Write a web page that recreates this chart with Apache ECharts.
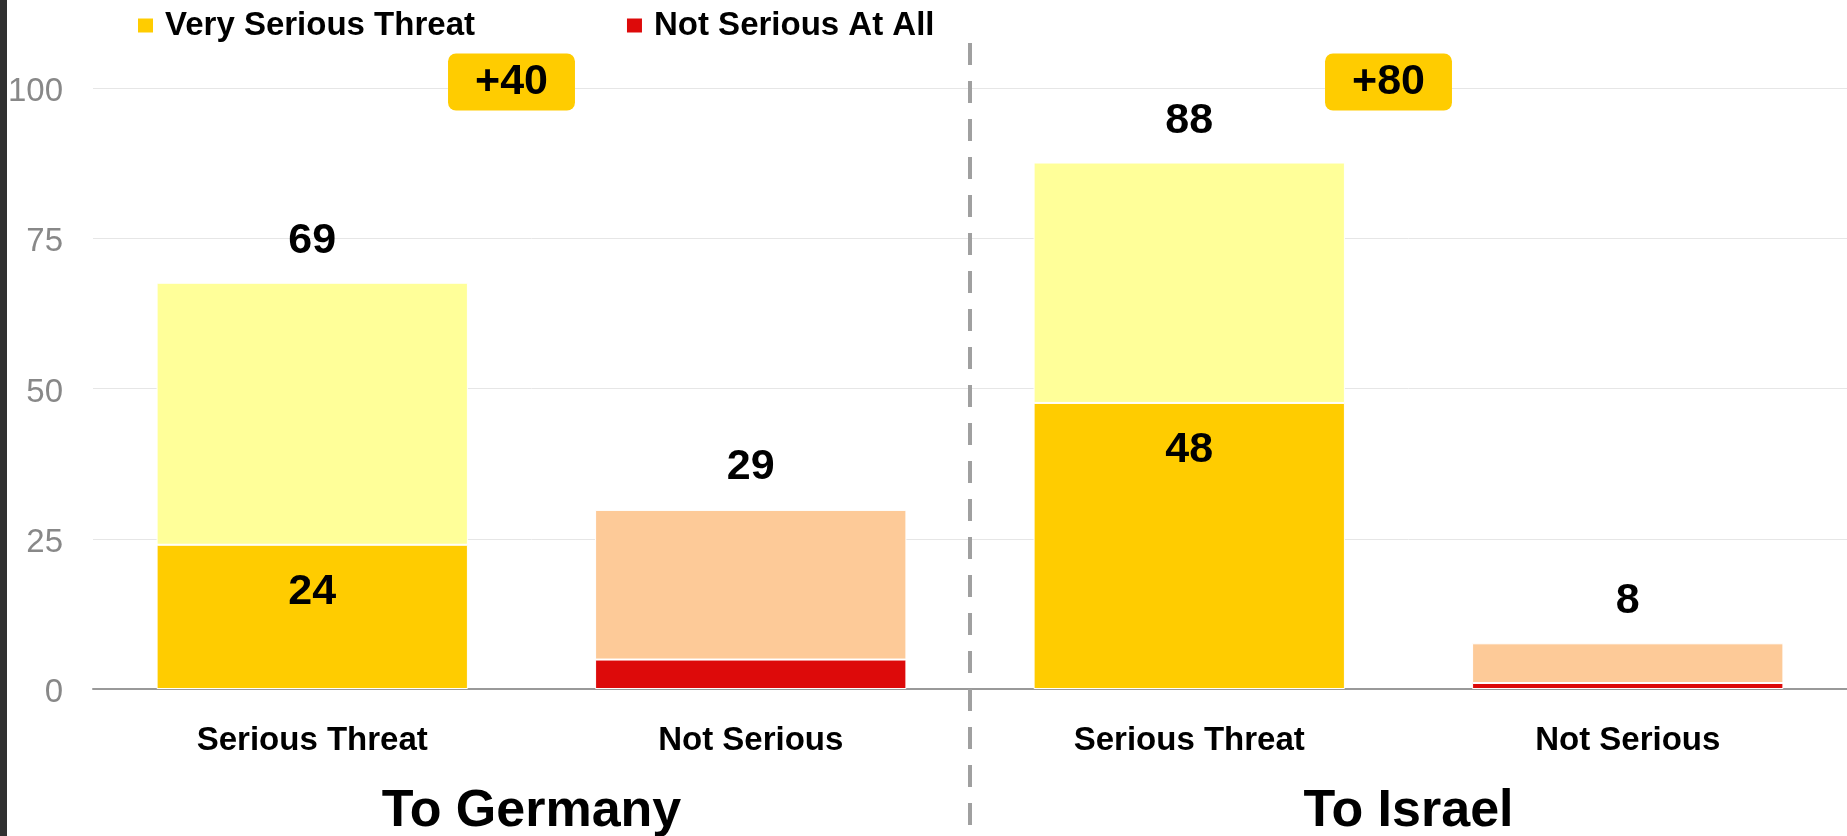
<!DOCTYPE html>
<html>
<head>
<meta charset="utf-8">
<title>Serious Threat</title>
<script src="https://cdn.jsdelivr.net/npm/echarts@6.0.0/dist/echarts.min.js"></script>
<style>
html, body { margin: 0; padding: 0; background: #fff; }
#chart { width: 1847px; height: 836px; }
</style>
</head>
<body>
<div id="chart"></div>
<script>
// data
const categories = ['Serious Threat', 'Not Serious', 'Serious Threat', 'Not Serious'];
const groups = ['To Germany', 'To Israel'];
const verySerious = [24, '-', 47.6, '-'];
const somewhatSerious = [43.6, '-', 40, '-'];
const notAtAll = ['-', 4.9, '-', 1];
const notTooSerious = ['-', 24.9, '-', 6.6];
const veryLabels = [24, '', 48, ''];
const totalLabels = [69, 29, 88, 8];
const diffLabels = ['+40', '+80'];
const diffAt = [1, 3];
const yTicks = [0, 25, 50, 75, 100];

const font = "'Liberation Sans', Arial, sans-serif";
let chart = echarts.init(document.getElementById('chart'));

chart.setOption({
  animation: false,
  textStyle: { fontFamily: font },
  grid: { left: 93, right: 0, top: 88, bottom: 147, outerBoundsMode: 'none' },
  legend: {
    data: ['Very Serious Threat', 'Not Serious At All'],
    left: 136,
    top: 9,
    padding: 0,
    icon: 'rect',
    itemWidth: 17,
    itemHeight: 16,
    itemGap: 150,
    selectedMode: false,
    textStyle: { fontSize: 33, fontWeight: 'bold', color: '#000', padding: [0, 0, 0, 6] }
  },
  xAxis: [
    {
      type: 'category',
      data: categories,
      axisLine: { lineStyle: { color: '#999', width: 2 } },
      axisTick: { length: 12, lineStyle: { color: '#999', width: 2 } },
      axisLabel: { fontSize: 33, fontWeight: 'bold', color: '#000', margin: 35 }
    },
    {
      type: 'category',
      data: groups,
      position: 'bottom',
      axisLine: { show: false },
      axisTick: { show: false },
      axisLabel: { fontSize: 52, fontWeight: 'bold', color: '#000', margin: 97 }
    },
    { type: 'value', min: 0, max: 4, show: false }
  ],
  yAxis: {
    type: 'value',
    min: yTicks[0],
    max: yTicks[yTicks.length - 1],
    interval: yTicks[1] - yTicks[0],
    axisLine: { show: false },
    axisTick: { show: false },
    axisLabel: {
      margin: 30,
      formatter: '{v|{value}}',
      rich: { v: { fontSize: 33, color: '#888', padding: [8, 0, 0, 0] } }
    },
    splitLine: { lineStyle: { color: '#e6e6e6' } }
  },
  series: [
    {
      name: 'Very Serious Threat',
      type: 'bar',
      stack: 'total',
      barWidth: '71%',
      data: verySerious,
      itemStyle: { color: '#ffcc00', borderColor: '#fff', borderWidth: 1 },
      label: {
        show: true, position: 'insideTop', distance: 26,
        fontSize: 43, fontWeight: 'bold', color: '#000',
        formatter: p => veryLabels[p.dataIndex]
      }
    },
    {
      name: 'Somewhat Serious',
      type: 'bar',
      stack: 'total',
      data: somewhatSerious,
      itemStyle: { color: '#ffff99', borderColor: '#fff', borderWidth: 1 },
      label: {
        show: true, position: 'top', distance: 20,
        fontSize: 43, fontWeight: 'bold', color: '#000',
        formatter: p => totalLabels[p.dataIndex]
      }
    },
    {
      name: 'Not Serious At All',
      type: 'bar',
      stack: 'total',
      data: notAtAll,
      itemStyle: { color: '#dd0a0a', borderColor: '#fff', borderWidth: 1 }
    },
    {
      name: 'Not Too Serious',
      type: 'bar',
      stack: 'total',
      data: notTooSerious,
      itemStyle: { color: '#fdca98', borderColor: '#fff', borderWidth: 1 },
      label: {
        show: true, position: 'top', distance: 21,
        fontSize: 43, fontWeight: 'bold', color: '#000',
        formatter: p => totalLabels[p.dataIndex]
      }
    },
    {
      name: 'diff',
      type: 'scatter',
      xAxisIndex: 2,
      symbolSize: 1,
      itemStyle: { color: 'rgba(0,0,0,0)', opacity: 1 },
      data: diffAt.map(x => [x, yTicks[yTicks.length - 1]]),
      label: {
        show: true, position: 'inside', offset: [-20, -6],
        fontSize: 43, fontWeight: 'bold', color: '#000', opacity: 1,
        backgroundColor: '#ffcc00', borderRadius: 8, padding: [7, 27],
        formatter: p => diffLabels[p.dataIndex]
      },
      z: 5
    }
  ]
});

// dashed divider between the two groups, and the dark strip at the left edge
let divX = chart.convertToPixel({ xAxisIndex: 2 }, 2);
chart.setOption({
  graphic: [
    {
      type: 'line',
      shape: { x1: divX, y1: 43, x2: divX, y2: 836 },
      style: { stroke: '#a0a0a0', lineWidth: 4, lineDash: [22, 16] },
      z: 10
    },
    {
      type: 'rect',
      shape: { x: 0, y: 0, width: 7, height: 836 },
      style: { fill: '#303030' },
      z: 10
    }
  ]
});
</script>
</body>
</html>
